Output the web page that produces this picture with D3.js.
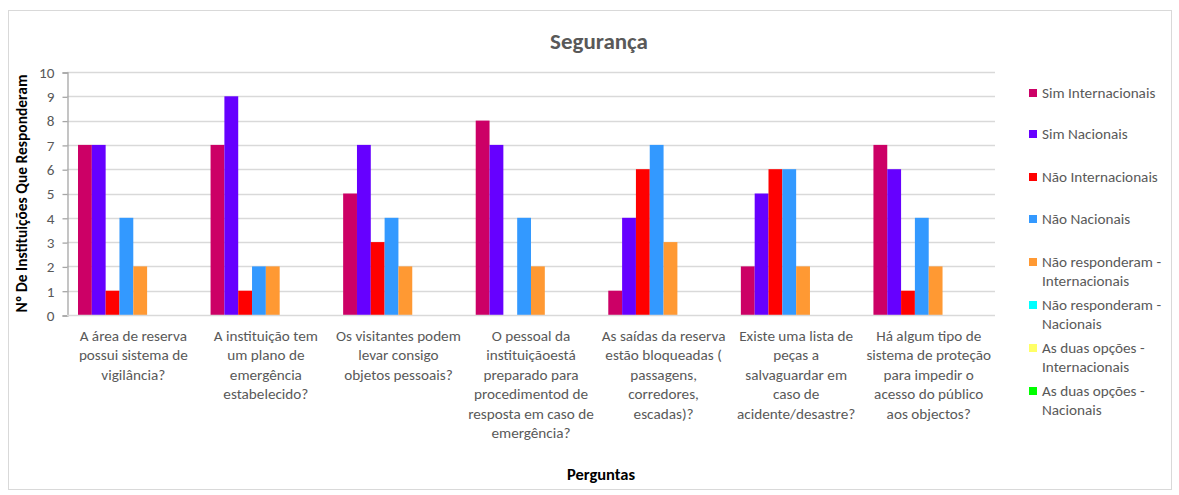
<!DOCTYPE html>
<html>
<head>
<meta charset="utf-8">
<script src="https://cdn.jsdelivr.net/npm/d3@7"></script>
<style>
  body { margin: 0; background: #fff; }
  text { font-family: Calibri, Carlito, Lato, "Open Sans", sans-serif; }
</style>
</head>
<body>
<svg id="chart" width="1179" height="495"></svg>
<script>
// categories (line breaks as in the original)
var categories = [
  "A área de reserva\npossui sistema de\nvigilância?",
  "A instituição tem\num plano de\nemergência\nestabelecido?",
  "Os visitantes podem\nlevar consigo\nobjetos pessoais?",
  "O pessoal da\ninstituiçãoestá\npreparado para\nprocedimentod de\nresposta em caso de\nemergência?",
  "As saídas da reserva\nestão bloqueadas (\npassagens,\ncorredores,\nescadas)?",
  "Existe uma lista de\npeças a\nsalvaguardar em\ncaso de\nacidente/desastre?",
  "Há algum tipo de\nsistema de proteção\npara impedir o\nacesso do público\naos objectos?"
];

var seriesNames = [
  "Sim Internacionais",
  "Sim Nacionais",
  "Não Internacionais",
  "Não Nacionais",
  "Não responderam -\nInternacionais",
  "Não responderam -\nNacionais",
  "As duas opções -\nInternacionais",
  "As duas opções -\nNacionais"
];
var seriesColors = ["#cc0066", "#6600ff", "#ff0000", "#3399ff", "#ff9933", "#00ffff", "#ffff66", "#00ff00"];

var simInternacionais = [7, 7, 5, 8, 1, 2, 7];
var simNacionais = [7, 9, 7, 7, 4, 5, 6];
var naoInternacionais = [1, 1, 3, 0, 6, 6, 1];
var naoNacionais = [4, 2, 4, 4, 7, 6, 4];
var naoRespInternacionais = [2, 2, 2, 2, 3, 2, 2];
var naoRespNacionais = [0, 0, 0, 0, 0, 0, 0];
var ambasInternacionais = [0, 0, 0, 0, 0, 0, 0];
var ambasNacionais = [0, 0, 0, 0, 0, 0, 0];

var yTicks = [0, 1, 2, 3, 4, 5, 6, 7, 8, 9, 10];

var seriesValues = [simInternacionais, simNacionais, naoInternacionais, naoNacionais,
                    naoRespInternacionais, naoRespNacionais, ambasInternacionais, ambasNacionais];

var svg = d3.select("#chart");
var plotL = 67, plotR = 995, plotT = 72, plotB = 315;
var textGrey = "#595959";
var fs = 15.2;

// chart frame
svg.append("rect")
  .attr("x", 8.5).attr("y", 10.5)
  .attr("width", 1163).attr("height", 479)
  .attr("fill", "#fff").attr("stroke", "#d9d9d9");

var x = d3.scaleBand().domain(d3.range(categories.length))
  .range([plotL, plotR]).paddingInner(0.166).paddingOuter(0.083);
var xs = d3.scaleBand().domain(d3.range(seriesNames.length))
  .range([0, x.bandwidth()]);
var y = d3.scaleLinear().domain([0, 10]).range([plotB, plotT]);

// gridlines
svg.append("g").selectAll("line").data(yTicks.slice(1)).enter().append("line")
  .attr("x1", plotL).attr("x2", plotR)
  .attr("y1", d => Math.round(y(d)) + 0.5).attr("y2", d => Math.round(y(d)) + 0.5)
  .attr("stroke", "#d9d9d9").attr("stroke-width", 1.3);

// bars
var groups = svg.append("g").selectAll("g").data(seriesValues).enter().append("g")
  .attr("fill", (d, i) => seriesColors[i]);
groups.each(function(vals, si) {
  d3.select(this).selectAll("rect").data(vals).enter().append("rect")
    .attr("x", (d, ci) => x(ci) + xs(si))
    .attr("y", d => y(d))
    .attr("width", xs.bandwidth())
    .attr("height", d => y(0) - y(d));
});

// y axis
var yAxis = svg.append("g")
  .attr("transform", "translate(" + (plotL + 0.5) + ",0.5)")
  .call(d3.axisLeft(y).tickValues(yTicks).tickSize(5).tickPadding(8).tickFormat(d3.format("d")));
yAxis.select(".domain").attr("stroke", "#a6a6a6").attr("stroke-width", 1.3);
yAxis.selectAll(".tick line").attr("stroke", "#a6a6a6").attr("stroke-width", 1.3);
yAxis.selectAll(".tick text").attr("fill", textGrey).attr("font-size", fs)
  .style("font-family", "Calibri, Carlito, Lato, 'Open Sans', sans-serif");

// x axis line
svg.append("line")
  .attr("x1", plotL).attr("x2", plotR)
  .attr("y1", plotB + 0.5).attr("y2", plotB + 0.5)
  .attr("stroke", "#d9d9d9").attr("stroke-width", 1.3);

// category labels
var catLabels = svg.append("g").selectAll("text").data(categories).enter().append("text")
  .attr("text-anchor", "middle")
  .attr("fill", textGrey).attr("font-size", fs)
  .attr("transform", (d, i) => "translate(" + (x(i) + x.bandwidth() / 2) + ",341)");
catLabels.selectAll("tspan").data(d => d.split("\n")).enter().append("tspan")
  .attr("x", 0).attr("y", (d, i) => i * 19.4)
  .text(d => d);

// titles
svg.append("text").attr("x", 599).attr("y", 49).attr("text-anchor", "middle")
  .attr("font-size", 23).attr("font-weight", "bold").attr("fill", textGrey)
  .text("Segurança");
svg.append("text").attr("x", 601).attr("y", 480).attr("text-anchor", "middle")
  .attr("font-size", 16.5).attr("font-weight", "bold").attr("fill", "#000")
  .text("Perguntas");
svg.append("text")
  .attr("transform", "translate(27," + ((plotT + plotB) / 2) + ") rotate(-90)")
  .attr("text-anchor", "middle")
  .attr("font-size", 15.5).attr("font-weight", "bold").attr("fill", "#000")
  .text("Nº De Instituições Que Responderam");

// legend
var legendY = [93, 134, 177, 219, 262, 305, 348, 391];
var legend = svg.append("g").selectAll("g").data(seriesNames).enter().append("g")
  .attr("transform", (d, i) => "translate(1029," + legendY[i] + ")");
legend.append("rect")
  .attr("x", 0).attr("y", -4).attr("width", 8).attr("height", 8)
  .attr("fill", (d, i) => seriesColors[i]);
var legendText = legend.append("text")
  .attr("fill", textGrey).attr("font-size", fs);
legendText.selectAll("tspan").data(d => d.split("\n")).enter().append("tspan")
  .attr("x", 13).attr("y", (d, i) => 5 + i * 19)
  .text(d => d);
</script>
</body>
</html>
